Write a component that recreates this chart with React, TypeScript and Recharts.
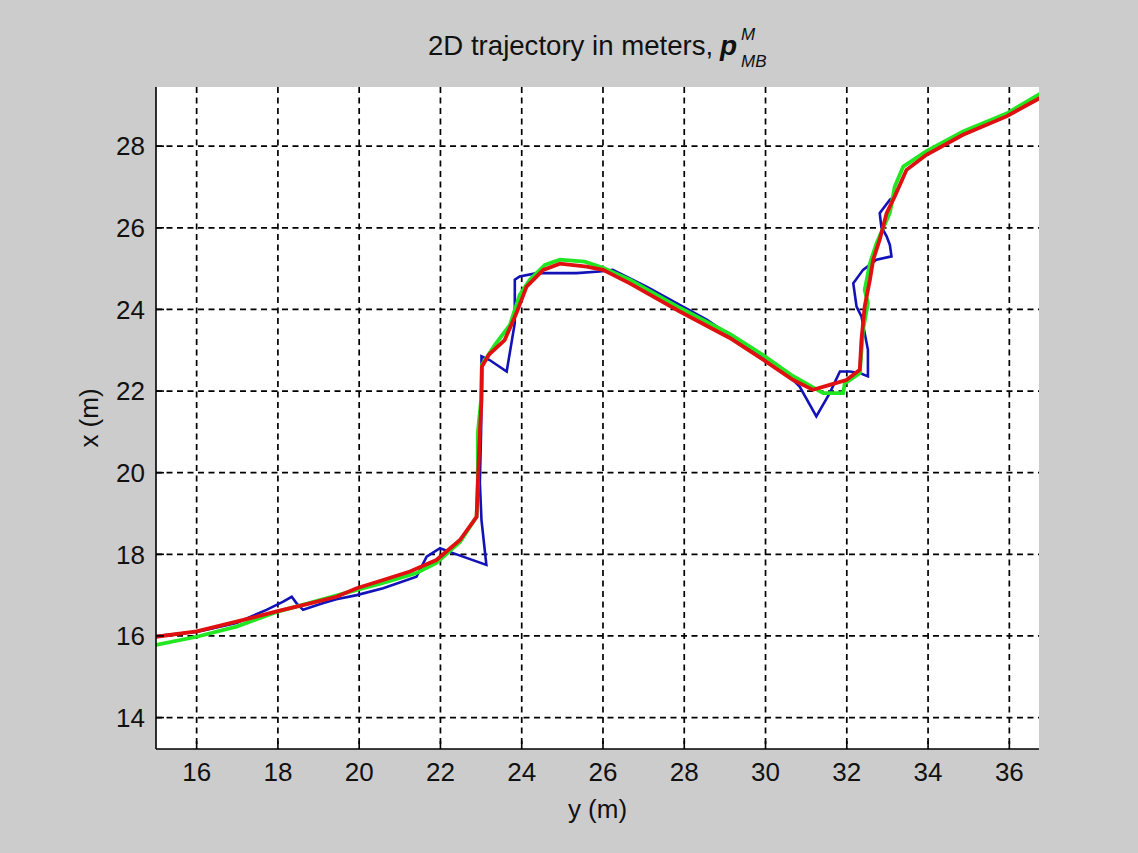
import React from 'react';
import { LineChart, Line, XAxis, YAxis, CartesianGrid } from 'recharts';

const FONT = '"Liberation Sans", Arial, Helvetica, sans-serif';

const xTicks = [16, 18, 20, 22, 24, 26, 28, 30, 32, 34, 36];
const yTicks = [14, 16, 18, 20, 22, 24, 26, 28];

// [y (horizontal), x (vertical)] pairs in meters
const measuredBlue: [number, number][] = [
  [15.0, 16.0], [16.0, 16.1], [16.98, 16.32], [17.72, 16.64], [18.13, 16.84],
  [18.34, 16.96], [18.46, 16.8], [18.62, 16.64], [19.1, 16.8], [19.44, 16.9],
  [19.94, 17.0], [20.59, 17.17], [21.41, 17.45], [21.66, 17.94], [21.99, 18.15],
  [22.31, 18.03], [23.13, 17.74], [23.01, 18.84], [22.97, 19.75], [23.0, 21.0],
  [23.01, 21.78], [23.01, 22.85], [23.21, 22.76], [23.63, 22.48], [23.83, 23.67],
  [23.83, 24.73], [23.95, 24.81], [24.37, 24.89], [25.35, 24.89], [25.92, 24.93],
  [26.24, 24.97], [27.07, 24.56], [28.55, 23.75], [29.19, 23.32], [30.35, 22.6],
  [30.84, 22.11], [31.25, 21.38], [31.58, 21.95], [31.83, 22.48], [32.07, 22.48],
  [32.32, 22.44], [32.52, 22.36], [32.52, 23.01], [32.36, 23.83], [32.24, 24.07],
  [32.16, 24.64], [32.4, 24.97], [32.73, 25.22], [33.1, 25.3], [33.06, 25.58],
  [32.98, 25.79], [32.85, 26.03], [32.81, 26.36], [33.06, 26.69], [33.18, 26.77],
  [33.47, 27.42], [33.96, 27.79], [34.86, 28.28], [35.93, 28.73], [36.75, 29.18],
];

const estimateGreen: [number, number][] = [
  [15.0, 15.78], [16.0, 15.98], [16.98, 16.23], [17.97, 16.59], [18.79, 16.81],
  [19.94, 17.13], [20.59, 17.3], [21.41, 17.54], [21.9, 17.79], [22.48, 18.3],
  [22.89, 18.92], [22.92, 19.75], [22.92, 20.98], [23.0, 21.78], [23.02, 22.64],
  [23.34, 23.13], [23.71, 23.62], [23.95, 24.36], [24.2, 24.73], [24.57, 25.09],
  [24.94, 25.22], [25.55, 25.17], [26.0, 25.02], [26.66, 24.73], [27.89, 24.04],
  [29.12, 23.4], [29.93, 22.89], [30.67, 22.37], [31.42, 21.95], [31.91, 21.95],
  [31.95, 22.19], [32.32, 22.44], [32.4, 23.5], [32.52, 24.15], [32.44, 24.48],
  [32.57, 25.13], [32.73, 25.62], [33.06, 26.37], [33.18, 27.01], [33.39, 27.5],
  [33.96, 27.88], [34.86, 28.36], [35.93, 28.8], [36.75, 29.28],
];

const estimateRed: [number, number][] = [
  [15.0, 15.98], [16.0, 16.11], [16.98, 16.35], [17.97, 16.6], [18.79, 16.8],
  [19.44, 16.96], [19.94, 17.17], [20.59, 17.37], [21.25, 17.58], [21.9, 17.86],
  [22.48, 18.35], [22.89, 18.92], [22.92, 19.75], [22.97, 20.98], [23.01, 21.78],
  [23.02, 22.6], [23.2, 22.9], [23.58, 23.25], [23.87, 23.91], [24.12, 24.56],
  [24.53, 24.97], [24.94, 25.12], [25.6, 25.05], [26.0, 24.97], [26.66, 24.64],
  [27.89, 23.95], [29.12, 23.3], [29.94, 22.77], [30.68, 22.27], [31.17, 22.03],
  [31.58, 22.15], [31.99, 22.27], [32.32, 22.52], [32.36, 23.25], [32.44, 24.07],
  [32.57, 24.73], [32.65, 25.22], [32.81, 25.71], [32.98, 26.36], [33.18, 26.77],
  [33.47, 27.42], [33.96, 27.79], [34.86, 28.28], [35.93, 28.73], [36.75, 29.18],
];

const toPoints = (arr: [number, number][]) => arr.map(([y, x]) => ({ y, x }));

const blueData = toPoints(measuredBlue);
const greenData = toPoints(estimateGreen);
const redData = toPoints(estimateRed);

const XLabel = (props: any) => {
  const vb = props.viewBox || {};
  return (
    <text x={vb.x + vb.width / 2} y={vb.y + 69} textAnchor="middle" fontSize={26} fontFamily={FONT} fill="#111">
      y (m)
    </text>
  );
};

const YLabel = (props: any) => {
  const vb = props.viewBox || {};
  const cx = vb.x + 13;
  const cy = vb.y + vb.height / 2;
  return (
    <text x={cx} y={cy} textAnchor="middle" dominantBaseline="central" fontSize={26} fontFamily={FONT} fill="#111" transform={`rotate(-90, ${cx}, ${cy})`}>
      x (m)
    </text>
  );
};

export default function App() {
  return (
    <div style={{ position: 'fixed', left: 0, top: 0, width: 1138, height: 853, background: '#cccccc', fontFamily: FONT }}>
      <LineChart width={1138} height={853} margin={{ top: 87, right: 99, bottom: 24, left: 76 }}>
        <CartesianGrid syncWithTicks fill="#ffffff" fillOpacity={1} stroke="#000000" strokeDasharray="6 4.5" strokeWidth={1.7} />
        <XAxis
          type="number"
          dataKey="y"
          domain={[15, 36.73]}
          ticks={xTicks}
          interval={0}
          allowDataOverflow
          height={80}
          tickSize={-8}
          tickMargin={22}
          axisLine={{ stroke: '#000', strokeWidth: 1.6 }}
          tickLine={{ stroke: '#000', strokeWidth: 1.6 }}
          tick={{ fill: '#111', fontSize: 26, fontFamily: FONT }}
          label={{ content: XLabel }}
        />
        <YAxis
          type="number"
          dataKey="x"
          domain={[13.23, 29.45]}
          ticks={yTicks}
          interval={0}
          allowDataOverflow
          width={80}
          tickSize={-8}
          tickMargin={19}
          axisLine={{ stroke: '#000', strokeWidth: 1.6 }}
          tickLine={{ stroke: '#000', strokeWidth: 1.6 }}
          tick={{ fill: '#111', fontSize: 26, fontFamily: FONT }}
          label={{ content: YLabel }}
        />
        <Line data={blueData} dataKey="x" type="linear" stroke="#1212b8" strokeWidth={2.6} dot={false} activeDot={false} isAnimationActive={false} />
        <Line data={greenData} dataKey="x" type="linear" stroke="#22e622" strokeWidth={3.8} dot={false} activeDot={false} isAnimationActive={false} />
        <Line data={redData} dataKey="x" type="linear" stroke="#e01010" strokeWidth={3.8} dot={false} activeDot={false} isAnimationActive={false} />
      </LineChart>
      <svg width={1138} height={90} style={{ position: 'absolute', left: 0, top: 0, pointerEvents: 'none' }}>
        <text x={428} y={55} fontSize={27.6} fontFamily={FONT} fill="#111">2D trajectory in meters,</text>
        <text x={720} y={55} fontSize={28} fontFamily={FONT} fill="#111" fontWeight="bold" fontStyle="italic">p</text>
        <text x={741} y={40} fontSize={17} fontFamily={FONT} fill="#111" fontStyle="italic">M</text>
        <text x={741} y={67} fontSize={17} fontFamily={FONT} fill="#111" fontStyle="italic">MB</text>
      </svg>
    </div>
  );
}
